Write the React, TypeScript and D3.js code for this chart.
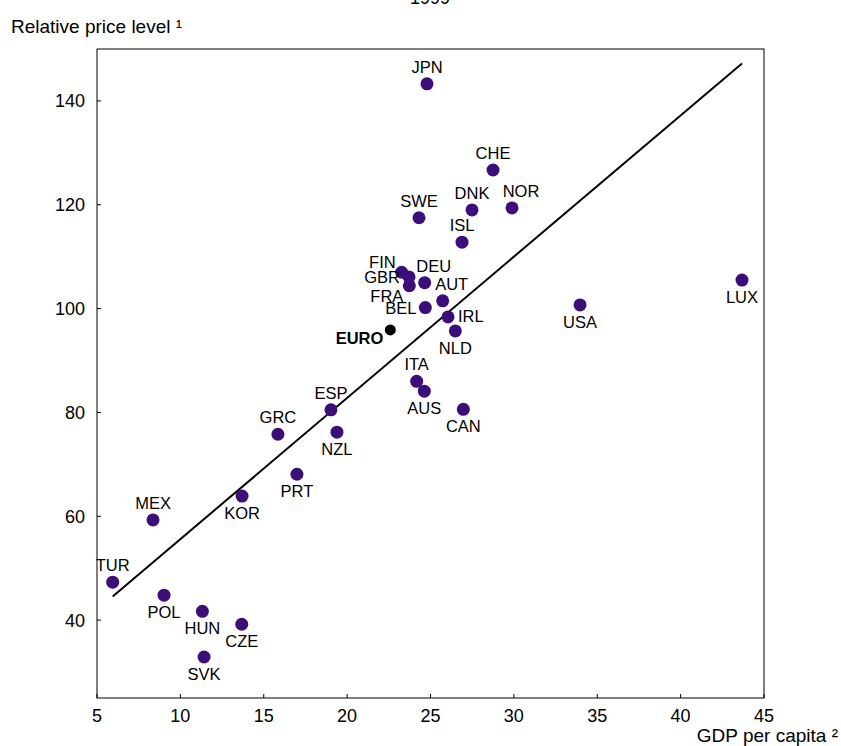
import { useEffect, useRef } from "react";
import * as d3 from "d3";

// Countries, GDP per capita (thousand) and relative price level
const countries = [
  "JPN", "CHE", "DNK", "NOR", "SWE", "ISL", "FIN", "GBR", "FRA", "DEU",
  "BEL", "AUT", "IRL", "NLD", "USA", "LUX", "ITA", "AUS", "CAN", "ESP",
  "NZL", "GRC", "PRT", "KOR", "MEX", "TUR", "POL", "HUN", "CZE", "SVK",
];
const gdp = [
  24.79, 28.75, 27.49, 29.89, 24.31, 26.89, 23.27, 23.71, 23.73, 24.65,
  24.69, 25.73, 26.05, 26.49, 33.97, 43.68, 24.17, 24.63, 26.97, 19.03,
  19.39, 15.85, 16.99, 13.7, 8.36, 5.94, 9.02, 11.32, 13.68, 11.42,
];
const price = [
  143.3, 126.7, 119.0, 119.4, 117.5, 112.8, 107.0, 106.1, 104.4, 105.0,
  100.2, 101.5, 98.4, 95.7, 100.7, 105.5, 86.0, 84.1, 80.6, 80.5,
  76.2, 75.8, 68.1, 63.9, 59.3, 47.3, 44.8, 41.7, 39.2, 32.9,
];
// label placement relative to each dot
const labelPlace = [
  "above", "above", "above", "aboveR", "above", "above", "leftUp", "left", "leftDown", "aboveR",
  "left", "aboveR", "right", "below", "below", "below", "above", "below", "below", "above",
  "below", "above", "below", "below", "above", "above", "below", "below", "below", "below",
];
const euro = { name: "EURO", gdp: 22.59, price: 95.9 };

// fitted line
const trendSlope = 2.72;
const trendIntercept = 28.4;

const xTicks = [5, 10, 15, 20, 25, 30, 35, 40, 45];
const yTicks = [40, 60, 80, 100, 120, 140];

const W = 841;
const H = 746;
const FONT = "'Liberation Sans', Arial, sans-serif";

export default function App() {
  const ref = useRef<SVGSVGElement>(null);

  useEffect(() => {
    if (!ref.current) return;
    const svg = d3.select(ref.current);
    svg.selectAll("*").remove();

    const left = 97, right = 764, top = 49, bottom = 698;
    const x = d3.scaleLinear().domain([5, 45]).range([left, right]);
    const y = d3.scaleLinear().domain([25, 150]).range([bottom, top]);

    svg.append("text").attr("x", 430).attr("y", 4).attr("text-anchor", "middle")
      .attr("font-size", 18).text("1999");
    svg.append("text").attr("x", 11).attr("y", 33).attr("font-size", 19).text("Relative price level ¹");
    svg.append("text").attr("x", 838).attr("y", 742).attr("text-anchor", "end")
      .attr("font-size", 19).text("GDP per capita ²");

    // frame
    svg.append("rect").attr("x", left).attr("y", top).attr("width", right - left)
      .attr("height", bottom - top).attr("fill", "none").attr("stroke", "#000").attr("stroke-width", 1);

    // ticks (inward)
    const xt = svg.append("g");
    xTicks.forEach((t) => {
      xt.append("line").attr("x1", x(t)).attr("x2", x(t)).attr("y1", bottom).attr("y2", bottom - 4)
        .attr("stroke", "#000");
      xt.append("text").attr("x", x(t)).attr("y", bottom + 24).attr("text-anchor", "middle")
        .attr("font-size", 18).text(t);
    });
    const yt = svg.append("g");
    yTicks.forEach((t) => {
      yt.append("line").attr("x1", left).attr("x2", left + 4).attr("y1", y(t)).attr("y2", y(t))
        .attr("stroke", "#000");
      yt.append("text").attr("x", left - 12).attr("y", y(t) + 6.5).attr("text-anchor", "end")
        .attr("font-size", 18).text(t);
    });

    // trend line across data range
    const [x0, x1] = d3.extent(gdp) as [number, number];
    svg.append("path")
      .attr("d", d3.line<number>().x((d) => x(d)).y((d) => y(trendIntercept + trendSlope * d))([x0, x1]))
      .attr("stroke", "#000").attr("stroke-width", 2).attr("fill", "none");

    const dots = svg.append("g");
    countries.forEach((c, i) => {
      const cx = x(gdp[i]);
      const cy = y(price[i]);
      dots.append("circle").attr("cx", cx).attr("cy", cy).attr("r", 6.5).attr("fill", "#3c0e7a");
      let lx = cx, ly = cy, anchor = "middle";
      switch (labelPlace[i]) {
        case "above": ly = cy - 11; break;
        case "aboveR": lx = cx + 9; ly = cy - 11; break;
        case "below": ly = cy + 23; break;
        case "left": lx = cx - 9; ly = cy + 6; anchor = "end"; break;
        case "leftUp": lx = cx - 6; ly = cy - 4; anchor = "end"; break;
        case "leftDown": lx = cx - 6; ly = cy + 16; anchor = "end"; break;
        case "right": lx = cx + 10; ly = cy + 5; anchor = "start"; break;
      }
      dots.append("text").attr("x", lx).attr("y", ly).attr("text-anchor", anchor)
        .attr("font-size", 16.5).text(c);
    });

    dots.append("circle").attr("cx", x(euro.gdp)).attr("cy", y(euro.price)).attr("r", 5.5).attr("fill", "#000");
    dots.append("text").attr("x", x(euro.gdp) - 7).attr("y", y(euro.price) + 14).attr("text-anchor", "end")
      .attr("font-size", 16.5).attr("font-weight", "bold").text(euro.name);
  }, []);

  return (
    <svg
      ref={ref}
      width={W}
      height={H}
      style={{ position: "absolute", left: 0, top: 0, fontFamily: FONT, background: "#fff" }}
    />
  );
}
